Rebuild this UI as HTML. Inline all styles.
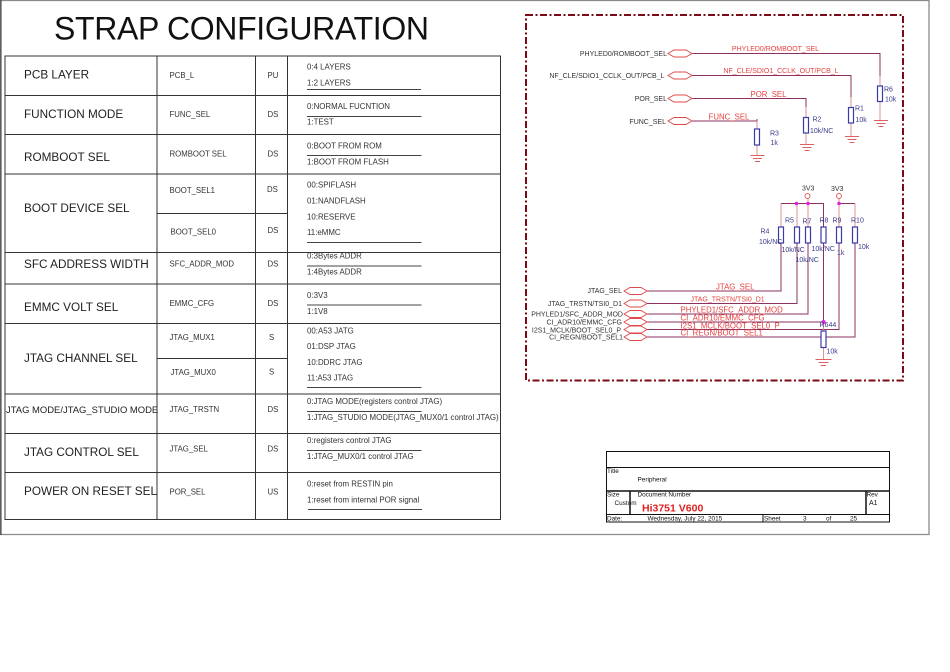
<!DOCTYPE html>
<html><head><meta charset="utf-8"><style>
html,body{margin:0;padding:0;background:#fff}
svg{display:block}
text{font-family:"Liberation Sans",Arial,sans-serif}
.big{font-size:11.75px;fill:#222}
.sm{font-size:7.8px;fill:#333}
.opt{font-size:7.9px;fill:#333}
.p{font-size:7px;fill:#333}
.n{font-size:7.8px;fill:#e8403f}
.r{font-size:7px;fill:#3a3a8a}
.t{font-size:6.4px;fill:#111}
.tb{stroke:#333;stroke-width:1;fill:none}
.w{stroke:#8c3060;stroke-width:1;fill:none}
.v{stroke:#e39090;stroke-width:1;fill:none}
.g{stroke:#e06060;stroke-width:1;fill:none}
.box{stroke:#3a3aa8;stroke-width:1.2;fill:#fff}
.hex{stroke:#e04a4a;stroke-width:.9;fill:#fff}
.u{stroke:#444;stroke-width:.9}
</style></head><body>
<svg width="950" height="672" viewBox="0 0 950 672" xmlns="http://www.w3.org/2000/svg">
<rect width="950" height="672" fill="#fff"/>
<path d="M.5 535V.5H929V534.5H0" fill="none" stroke="#8a8a8a" stroke-width="1.3"/>
<path d="M1 0V535" stroke="#333" stroke-width="1"/>
<text x="54" y="39.5" font-size="32" fill="#111" textLength="375">STRAP CONFIGURATION</text>

<!-- table -->
<path class="tb" d="M5 56H500.5V519.5H5ZM5 95.500H500.500M5 134.500H500.500M5 174H500.500M5 252.500H500.500M5 284H500.500M5 323.500H500.500M5 394H500.500M5 433.500H500.500M5 472.500H500.500M157 56V519.500M255.500 56V519.500M287.500 56V519.500M157 213.500H287.500M157 358.500H287.500"/>
<text class="big" x="24" y="78.500">PCB LAYER</text>
<text class="big" x="24" y="118">FUNCTION MODE</text>
<text class="big" x="24" y="161">ROMBOOT SEL</text>
<text class="big" x="24" y="212">BOOT DEVICE SEL</text>
<text class="big" x="24" y="268">SFC ADDRESS WIDTH</text>
<text class="big" x="24" y="311">EMMC VOLT SEL</text>
<text class="big" x="24" y="362">JTAG CHANNEL SEL</text>
<text class="big" x="6" y="413" style="font-size:9.45px">JTAG MODE/JTAG_STUDIO MODE</text>
<text class="big" x="24" y="456">JTAG CONTROL SEL</text>
<text class="big" x="24" y="495">POWER ON RESET SEL</text>

<g class="sm">
<text x="169.500" y="78">PCB_L</text><text x="169.500" y="117">FUNC_SEL</text><text x="169.500" y="156.500">ROMBOOT SEL</text>
<text x="169.500" y="193">BOOT_SEL1</text><text x="170.500" y="234.500">BOOT_SEL0</text><text x="169.500" y="266.500">SFC_ADDR_MOD</text>
<text x="169.500" y="306">EMMC_CFG</text><text x="169.500" y="340">JTAG_MUX1</text><text x="170.500" y="375">JTAG_MUX0</text>
<text x="169.500" y="412">JTAG_TRSTN</text><text x="169.500" y="451.500">JTAG_SEL</text><text x="169.500" y="494.500">POR_SEL</text>
<text x="267.500" y="78">PU</text><text x="267.500" y="117">DS</text><text x="267.500" y="156.500">DS</text><text x="267" y="192">DS</text><text x="267.500" y="233">DS</text><text x="267.500" y="266.500">DS</text><text x="267.500" y="306">DS</text><text x="269" y="340">S</text><text x="269" y="374.500">S</text><text x="267.500" y="412">DS</text><text x="267.500" y="451.500">DS</text><text x="267.500" y="494.500">US</text>
</g>
<g class="opt">
<text x="307" y="69.500">0:4 LAYERS</text><text x="307" y="85.500">1:2 LAYERS</text>
<text x="307" y="109">0:NORMAL FUCNTION</text><text x="307" y="124.500">1:TEST</text>
<text x="307" y="148.500">0:BOOT FROM ROM</text><text x="307" y="164.500">1:BOOT FROM FLASH</text>
<text x="307" y="187.500">00:SPIFLASH</text><text x="307" y="203.500">01:NANDFLASH</text><text x="307" y="219.500">10:RESERVE</text><text x="307" y="235">11:eMMC</text>
<text x="307" y="258.500">0:3Bytes ADDR</text><text x="307" y="274.500">1:4Bytes ADDR</text>
<text x="307" y="298">0:3V3</text><text x="307" y="314">1:1V8</text>
<text x="307" y="333.500">00:A53 JATG</text><text x="307" y="349">01:DSP JTAG</text><text x="307" y="365">10:DDRC JTAG</text><text x="307" y="380.500">11:A53 JTAG</text>
<text x="307" y="404">0:JTAG MODE(registers control JTAG)</text><text x="307" y="420">1:JTAG_STUDIO MODE(JTAG_MUX0/1 control JTAG)</text>
<text x="307" y="443">0:registers control JTAG</text><text x="307" y="459">1:JTAG_MUX0/1 control JTAG</text>
<text x="307" y="486.500">0:reset from RESTIN pin</text><text x="307" y="502.500">1:reset from internal POR signal</text>
</g>
<path class="u" d="M307 89.500H421M307 116.500H421.500M307 155.500H421.500M307 242.500H421.500M307 266H421.500M307 305H421.500M307 387.500H421.500M307 411.500H421.500M307 450.500H421.500M308 509.500H422"/>

<!-- dashed frame -->
<rect x="526" y="15" width="377" height="365.500" fill="none" stroke="#7c0a14" stroke-width="2" stroke-dasharray="7 2.500 2 2.500"/>

<!-- upper nets -->
<path class="w" d="M692 53.500H880V76M692 75.500H851V97M692 98.500H806V107M692 121H757V119"/>
<path class="v" d="M880 76V86M880 101.500V120M851 97V107.500M851 123V136M806 107V117.500M806 133V144M757 121V129M757 145V155"/>
<g class="g">
<path d="M874 120.500H888M876.500 123.500H885.500M878.500 126.500H883.500M845 136.500H859M847.500 139.500H856.500M849.500 142.500H854.500M800 144.500H814M802.500 147.500H811.500M804.500 150.500H809.500M750.500 155.500H764.500M753 158.500H762M755 161.500H760"/>
</g>
<g class="box"><rect x="877.500" y="86" width="5" height="15.500"/><rect x="848.500" y="107.500" width="5" height="15.500"/><rect x="803.500" y="117.500" width="5" height="15.500"/><rect x="754.500" y="129" width="5" height="16"/></g>
<g class="hex">
<path d="M668 53.500L674 50H686L692 53.500L686 57H674Z"/>
<path d="M668 75.500L674 72H686L692 75.500L686 79H674Z"/>
<path d="M668 98.500L674 95H686L692 98.500L686 102H674Z"/>
<path d="M668 121L674 117.500H686L692 121L686 124.500H674Z"/>
</g>
<g class="p" text-anchor="end">
<text x="667" y="56">PHYLED0/ROMBOOT_SEL</text>
<text x="664.500" y="78">NF_CLE/SDIO1_CCLK_OUT/PCB_L</text>
<text x="667" y="101">POR_SEL</text>
<text x="666" y="124">FUNC_SEL</text>
</g>
<g class="n" text-anchor="middle">
<text x="775.500" y="51" style="font-size:7px">PHYLED0/ROMBOOT_SEL</text>
<text x="781" y="73" style="font-size:7px">NF_CLE/SDIO1_CCLK_OUT/PCB_L</text>
<text x="768.500" y="97">POR_SEL</text>
<text x="729" y="119.500">FUNC_SEL</text>
</g>
<g class="r">
<text x="884" y="91.500">R6</text><text x="885" y="101.500">10k</text>
<text x="855" y="110.500">R1</text><text x="855.500" y="122">10k</text>
<text x="812.500" y="121.500">R2</text><text x="810" y="133">10k/NC</text>
<text x="770" y="135.500">R3</text><text x="770.500" y="145">1k</text>
</g>

<!-- lower nets -->
<path class="w" d="M647 291H781V243M647 303.500H797V243M647 314H808V243M647 322H823.500V243M647 329.500H839V243M647 337H855V243"/>
<path class="w" d="M781 203.500H823.500V227M839 203.500H855"/>
<path class="v" d="M781 203.500V227M797 203.500V227M808 199V227M839 199V227M855 203.500V227M823.500 322V331M823.500 347V359"/>
<g class="g"><circle cx="807.500" cy="196" r="2.500"/><circle cx="839" cy="196" r="2.500"/>
<path d="M815.500 359.500H831.500M818.500 362.500H828.500M820.500 365.500H826"/></g>
<g class="box">
<rect x="778.500" y="227" width="5" height="16"/><rect x="794.500" y="227" width="5" height="16"/><rect x="805.500" y="227" width="5" height="16"/><rect x="821" y="227" width="5" height="16"/><rect x="836.500" y="227" width="5" height="16"/><rect x="852.500" y="227" width="5" height="16"/><rect x="821" y="331" width="5" height="16.500"/>
</g>
<g fill="#e020e0"><circle cx="796.500" cy="203.500" r="1.800"/><circle cx="808" cy="203.500" r="1.800"/><circle cx="839" cy="203.500" r="1.800"/><circle cx="823.500" cy="322" r="2"/></g>
<g class="hex">
<path d="M624 291L630 287.500H641L647 291L641 294.500H630Z"/>
<path d="M624 303.500L630 300H641L647 303.500L641 307H630Z"/>
<path d="M624 314L630 310.500H641L647 314L641 317.500H630Z"/>
<path d="M624 322L630 318.500H641L647 322L641 325.500H630Z"/>
<path d="M624 329.500L630 326H641L647 329.500L641 333H630Z"/>
<path d="M624 337L630 333.500H641L647 337L641 340.500H630Z"/>
</g>
<g class="p" text-anchor="end">
<text x="622" y="293">JTAG_SEL</text>
<text x="622" y="306">JTAG_TRSTN/TSI0_D1</text>
<text x="623" y="316.500">PHYLED1/SFC_ADDR_MOD</text>
<text x="622" y="324.500">CI_ADR10/EMMC_CFG</text>
<text x="621" y="332.500">I2S1_MCLK/BOOT_SEL0_P</text>
<text x="623" y="339.500">CI_REGN/BOOT_SEL1</text>
</g>
<g class="n">
<text x="716" y="289.500">JTAG_SEL</text>
<text x="690.500" y="301.500" style="font-size:7px">JTAG_TRSTN/TSI0_D1</text>
<text x="680.500" y="312.500">PHYLED1/SFC_ADDR_MOD</text>
<text x="680.500" y="320.500">CI_ADR10/EMMC_CFG</text>
<text x="680.500" y="328.500">I2S1_MCLK/BOOT_SEL0_P</text>
<text x="680.500" y="335.500">CI_REGN/BOOT_SEL1</text>
</g>
<g class="p" style="font-size:7px"><text x="802" y="190.500" fill="#333">3V3</text><text x="831" y="191" fill="#333">3V3</text></g>
<g class="r">
<text x="760.500" y="233.500">R4</text><text x="759" y="244">10k/NC</text>
<text x="785" y="222.500">R5</text><text x="781.500" y="252">10k/NC</text>
<text x="802.500" y="223.500">R7</text><text x="795.500" y="262">10k/NC</text>
<text x="819.500" y="222.500">R8</text><text x="811.500" y="251">10k/NC</text>
<text x="832.500" y="222.500">R9</text><text x="837" y="255">1k</text>
<text x="851" y="222.500">R10</text><text x="858" y="249">10k</text>
<text x="819.500" y="327">R644</text><text x="826.500" y="353.500">10k</text>
</g>

<!-- title block -->
<path d="M606.500 451.500H889.500V522H606.500ZM606.500 467.500H889.500M606.500 514.500H889.500M763 514.500V522" fill="none" stroke="#111" stroke-width="1"/>
<path d="M606.500 491H889.500M630 491V514.500M866 491V514.500" fill="none" stroke="#111" stroke-width="1.500"/>
<g class="t">
<text x="607" y="473">Title</text><text x="637.500" y="481.500">Peripheral</text>
<text x="607" y="496.500">Size</text><text x="614.500" y="505">Custom</text><text x="637.500" y="496.500">Document Number</text>
<text x="866.500" y="496.500">Rev</text><text x="869" y="505" style="font-size:7px">A1</text>
<text x="607" y="520.500">Date:</text><text x="647.500" y="520.500">Wednesday, July 22, 2015</text>
<text x="764" y="520.500">Sheet</text><text x="803" y="520.500">3</text><text x="826" y="520.500">of</text><text x="850" y="520.500">25</text>
</g>
<text x="642" y="511.500" font-size="10.500" font-weight="bold" fill="#e02020">Hi3751 V600</text>
</svg>
</body></html>
